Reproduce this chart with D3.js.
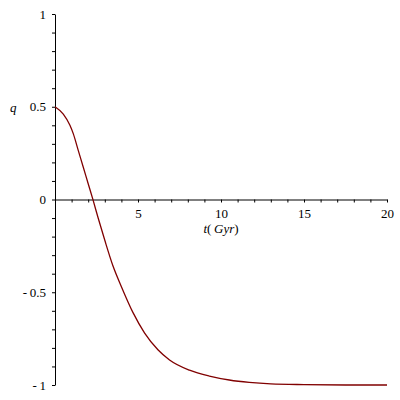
<!DOCTYPE html>
<html>
<head>
<meta charset="utf-8">
<script src="https://cdn.jsdelivr.net/npm/d3@7"></script>
<style>
  body { margin: 0; background: #fff; }
</style>
</head>
<body>
<div id="chart"></div>
<script>
// values: time in Gyr and deceleration parameter q
var tValues = [0, 0.5, 0.9, 1.1, 1.4, 1.7, 2.0, 2.3, 2.6, 3.0, 3.5, 4.0, 4.7, 5.4, 6.2, 6.9, 8.1, 9.3, 10.5, 11.7, 13, 15, 17.5, 20];
var qValues = [0.5, 0.46, 0.40, 0.355, 0.265, 0.175, 0.085, -0.005, -0.10, -0.22, -0.36, -0.47, -0.61, -0.72, -0.81, -0.865, -0.92, -0.952, -0.973, -0.986, -0.994, -0.998, -1.0, -1.0];
var xTicks = d3.range(1, 21);
var yTicks = d3.range(-10, 11).map(function (d) { return d / 10; });

var width = 400, height = 400;
var margin = { top: 14, right: 13, bottom: 15, left: 55 };
var serif = "Liberation Serif, DejaVu Serif, serif";

var svg = d3.select("#chart")
	.append("svg")
	.attr("width", width)
	.attr("height", height)
	.style("font-family", serif);

var x = d3.scaleLinear()
	.domain([0, 20])
	.range([margin.left, width - margin.right]);

var y = d3.scaleLinear()
	.domain([-1, 1])
	.range([height - margin.bottom, margin.top]);

// y axis sits at t = 0
var yAxis = svg.append("g")
	.attr("transform", "translate(" + x(0) + ",0)")
	.call(d3.axisLeft(y)
		.tickValues(yTicks)
		.tickSize(3)
		.tickSizeOuter(0)
		.tickPadding(6)
		.tickFormat(function (d) {
			if (Math.abs(d * 2 - Math.round(d * 2)) > 1e-9) return "";
			if (d === 0) return "0";
			if (d < 0) return "-\u2009" + d3.format("")(Math.abs(d));
			return d3.format("")(d);
		}));
yAxis.attr("font-family", null).attr("font-size", null);
yAxis.selectAll("text").style("font-family", serif).style("font-size", "13px").attr("fill", "#000");
yAxis.selectAll("path, line").attr("stroke", "#000");

// x axis sits at q = 0
var xAxis = svg.append("g")
	.attr("transform", "translate(0," + y(0) + ")")
	.call(d3.axisBottom(x)
		.tickValues(xTicks)
		.tickSize(3)
		.tickSizeOuter(0)
		.tickPadding(6)
		.tickFormat(function (d) { return d % 5 === 0 ? d : ""; }));
xAxis.attr("font-family", null).attr("font-size", null);
xAxis.selectAll("text").style("font-family", serif).style("font-size", "13px").attr("fill", "#000");
xAxis.selectAll("path, line").attr("stroke", "#000");

// the curve
var pts = tValues.map(function (t, i) { return [t, qValues[i]]; });
var line = d3.line()
	.x(function (d) { return x(d[0]); })
	.y(function (d) { return y(d[1]); })
	.curve(d3.curveMonotoneX);

svg.append("path")
	.datum(pts)
	.attr("d", line)
	.attr("fill", "none")
	.attr("stroke", "#800000")
	.attr("stroke-width", 1.3);

// axis titles
svg.append("text")
	.attr("x", 10)
	.attr("y", 112)
	.style("font-family", serif)
	.style("font-size", "13px")
	.style("font-style", "italic")
	.text("q");

var xl = svg.append("text")
	.attr("x", 221)
	.attr("y", 233)
	.attr("text-anchor", "middle")
	.style("font-family", serif)
	.style("font-size", "13px");
xl.append("tspan").style("font-style", "italic").text("t");
xl.append("tspan").text("(\u2009");
xl.append("tspan").style("font-style", "italic").text("Gyr");
xl.append("tspan").text(")");
</script>
</body>
</html>
